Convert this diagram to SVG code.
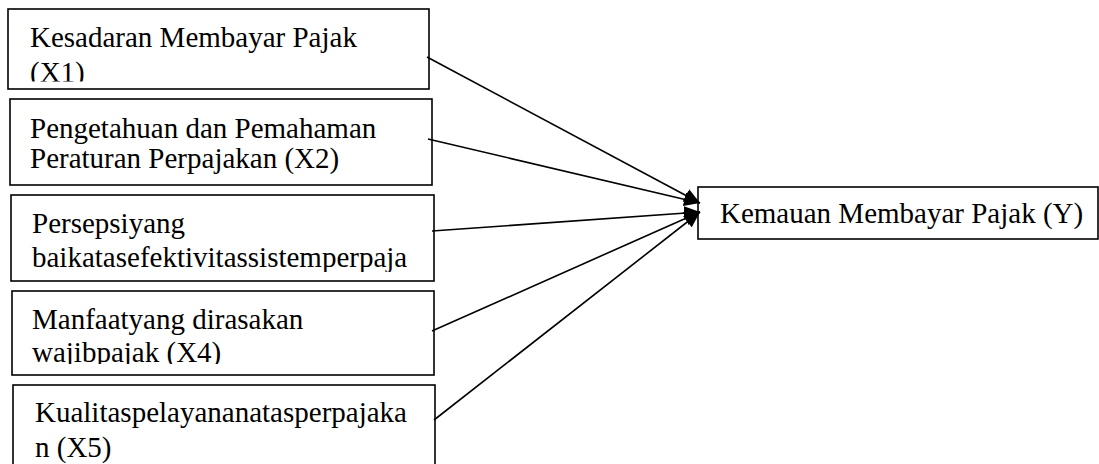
<svg xmlns="http://www.w3.org/2000/svg" width="1099" height="464" viewBox="0 0 1099 464">
<style>
.box{fill:#fff;stroke:#000;stroke-width:1.6}
.t{font-family:"Liberation Serif","Times New Roman",serif;font-size:29px;fill:#000}
.c{stroke:#000;stroke-width:1.6;fill:none;marker-end:url(#ah)}
</style>
<defs>
<marker id="ah" markerUnits="userSpaceOnUse" markerWidth="17" markerHeight="14" refX="16" refY="7" orient="auto">
<path d="M0,0 L16,7 L0,14 z" fill="#000"/>
</marker>
<clipPath id="k1"><rect x="8" y="9" width="421" height="72.5"/></clipPath>
<clipPath id="k2"><rect x="10" y="99" width="422" height="81"/></clipPath>
<clipPath id="k3"><rect x="11" y="195" width="423" height="77"/></clipPath>
<clipPath id="k4"><rect x="12" y="291" width="422" height="73"/></clipPath>
<clipPath id="k5"><rect x="13" y="385" width="422" height="79"/></clipPath>
</defs>
<g id="n1">
<rect class="box" x="8" y="9" width="421" height="80"/>
<g clip-path="url(#k1)">
<text class="t" x="30" y="47">Kesadaran Membayar Pajak</text>
<text class="t" x="30" y="82">(X1)</text>
</g>
</g>
<g id="n2">
<rect class="box" x="10" y="99" width="422" height="86"/>
<g clip-path="url(#k2)">
<text class="t" x="30" y="138">Pengetahuan dan Pemahaman</text>
<text class="t" x="30" y="168">Peraturan Perpajakan (X2)</text>
</g>
</g>
<g id="n3">
<rect class="box" x="11" y="195" width="423" height="86"/>
<g clip-path="url(#k3)">
<text class="t" x="32" y="233">Persepsiyang</text>
<text class="t" x="32" y="267">baikatasefektivitassistemperpaja</text>
</g>
</g>
<g id="n4">
<rect class="box" x="12" y="291" width="422" height="84"/>
<g clip-path="url(#k4)">
<text class="t" x="32" y="329">Manfaatyang dirasakan</text>
<text class="t" x="32" y="362">wajibpajak (X4)</text>
</g>
</g>
<g id="n5">
<rect class="box" x="13" y="385" width="422" height="100"/>
<g clip-path="url(#k5)">
<text class="t" x="35" y="422">Kualitaspelayananatasperpajaka</text>
<text class="t" x="35" y="457">n (X5)</text>
</g>
</g>
<g id="y">
<rect class="box" x="698" y="187" width="400" height="52"/>
<text class="t" x="720" y="223">Kemauan Membayar Pajak (Y)</text>
</g>
<g id="connectors">
<line class="c" x1="427" y1="57" x2="700" y2="203"/>
<line class="c" x1="428" y1="139" x2="700" y2="203"/>
<line class="c" x1="432" y1="231" x2="700" y2="212"/>
<line class="c" x1="432" y1="331" x2="700" y2="212"/>
<line class="c" x1="434" y1="420" x2="700" y2="212"/>
</g>
</svg>
